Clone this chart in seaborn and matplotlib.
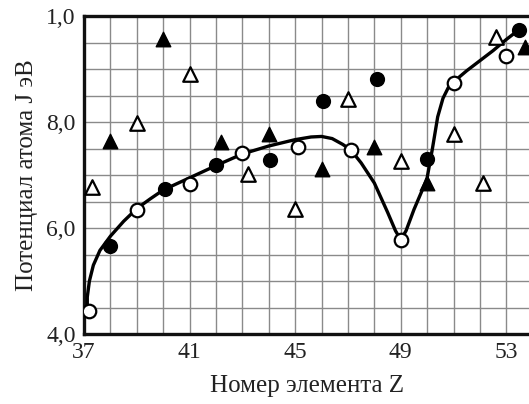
import matplotlib
matplotlib.use("Agg")
import matplotlib.pyplot as plt
from matplotlib.ticker import MultipleLocator
import pandas as pd
import seaborn as sns

# open circles (lie on the curve)
open_circle_z = [37.2, 39.0, 41.0, 43.0, 45.1, 47.1, 49.0, 51.0, 53.0]
open_circle_j = [4.43, 6.35, 6.84, 7.42, 7.54, 7.48, 5.77, 8.74, 9.24]

# filled circles
filled_circle_z = [38.0, 40.05, 42.0, 44.05, 46.05, 48.1, 50.0, 53.47]
filled_circle_j = [5.66, 6.74, 7.20, 7.29, 8.39, 8.81, 7.30, 9.74]

# filled triangles
filled_tri_z = [38.0, 40.0, 42.2, 44.0, 46.0, 48.0, 50.0, 53.7]
filled_tri_j = [7.65, 9.57, 7.62, 7.78, 7.12, 7.53, 6.85, 9.42]

# open triangles
open_tri_z = [37.3, 39.0, 41.0, 43.2, 45.0, 47.0, 49.0, 51.0, 52.1, 52.6]
open_tri_j = [6.77, 7.98, 8.90, 7.03, 6.37, 8.44, 7.26, 7.77, 6.85, 9.60]

# hand-drawn trend curve
curve_z = [37.12, 37.12, 37.2, 37.35, 37.6, 38.0, 38.5, 39.0, 39.5, 40.0, 41.0, 42.0,
           43.0, 44.0, 45.0, 45.6, 46.0, 46.4, 46.8, 47.1, 47.5, 48.0, 48.5, 48.8,
           49.0, 49.2, 49.5, 49.8, 50.0, 50.2, 50.4, 50.6, 50.8, 51.0, 51.5, 52.0,
           52.5, 53.0, 53.47]
curve_j = [4.45, 4.70, 5.00, 5.30, 5.58, 5.85, 6.13, 6.37, 6.55, 6.72, 6.95, 7.18,
           7.40, 7.55, 7.67, 7.72, 7.73, 7.69, 7.58, 7.48, 7.23, 6.85, 6.30, 5.95,
           5.78, 5.95, 6.35, 6.70, 6.95, 7.50, 8.10, 8.45, 8.65, 8.76, 8.97, 9.16,
           9.35, 9.56, 9.74]

x_ticks = [37, 41, 45, 49, 53]
y_ticks = [4, 6, 8, 10]
y_tick_labels = ["4,0", "6,0", "8,0", "1,0"]

sns.set_style("white")
plt.rcParams["font.family"] = ["Liberation Serif", "DejaVu Serif"]

fig = plt.figure(figsize=(5.29, 4.04), dpi=100)
ax = fig.add_axes([0.159, 0.173, 0.841, 0.787])

curve = pd.DataFrame({"z": curve_z, "j": curve_j})
sns.lineplot(data=curve, x="z", y="j", sort=False, color="black", lw=2.4, ax=ax,
             zorder=3, estimator=None)

ms = 95
sns.scatterplot(x=filled_circle_z, y=filled_circle_j, marker="o", s=ms, color="black",
                edgecolor="black", linewidth=1.2, ax=ax, zorder=4)
sns.scatterplot(x=open_circle_z, y=open_circle_j, marker="o", s=ms, color="white",
                edgecolor="black", linewidth=1.6, ax=ax, zorder=5)
sns.scatterplot(x=filled_tri_z, y=filled_tri_j, marker="^", s=ms * 1.15, color="black",
                edgecolor="black", linewidth=1.0, ax=ax, zorder=4)
sns.scatterplot(x=open_tri_z, y=open_tri_j, marker="^", s=ms * 1.15, color="white",
                edgecolor="black", linewidth=1.6, ax=ax, zorder=4)

ax.set_xlim(37, 53.86)
ax.set_ylim(4, 10)
ax.set_xticks(x_ticks)
ax.set_yticks(y_ticks)
ax.set_yticklabels(y_tick_labels)
ax.xaxis.set_minor_locator(MultipleLocator(1))
ax.yaxis.set_minor_locator(MultipleLocator(0.5))
ax.grid(which="both", color="#8a8a8a", lw=1.0)
ax.set_axisbelow(True)
ax.tick_params(which="both", length=0, labelsize=17, colors="#222222", pad=6)

for side in ["left", "bottom", "top"]:
    ax.spines[side].set_visible(True)
    ax.spines[side].set_color("#111111")
    ax.spines[side].set_linewidth(2.4)
ax.spines["right"].set_visible(False)

ax.set_xlabel("Номер элемента Z", fontsize=18, color="#222222", labelpad=8)
ax.set_ylabel("Потенциал атома J эВ", fontsize=18, color="#222222", labelpad=6)

fig.savefig("out.png", dpi=100)
